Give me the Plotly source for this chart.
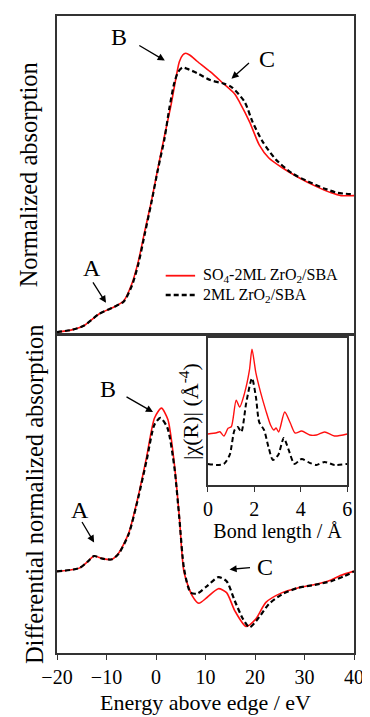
import plotly.graph_objects as go

# ---------------- data ----------------
# Top panel: normalized absorption
top_red_E = [-20, -17, -14.5, -11.5, -8.5, -6.5, -4.9, -3.56, -2.24, -0.93, 0.4, 1.72, 2.38, 3.03, 3.7, 4.7, 5.4, 6.0,
             6.8, 8.3, 10.95, 13.6, 15.9, 16.9, 18.9, 20.85, 22.8, 25.5, 28.8, 32.1, 35.4, 37.4, 40]
top_red_v = [0.01, 0.026, 0.057, 0.14, 0.19, 0.235, 0.355, 0.52, 0.74, 0.95, 1.19, 1.42, 1.53, 1.64, 1.77, 1.95, 2.0, 2.012,
             2.0, 1.955, 1.88, 1.795, 1.72, 1.66, 1.52, 1.355, 1.26, 1.19, 1.12, 1.06, 1.01, 0.99, 0.99]
top_blk_E = [-20, -17, -14.5, -11.5, -8.5, -6.5, -4.9, -3.56, -2.24, -0.93, 0.4, 1.72, 2.71, 3.7, 4.5, 5.35, 6.34,
             8.3, 10.95, 13.6, 15.25, 17.9, 19.5, 21.5, 24.2, 27.5, 30.8, 34.1, 36.7, 40]
top_blk_v = [0.01, 0.026, 0.057, 0.14, 0.19, 0.23, 0.34, 0.50, 0.72, 0.94, 1.18, 1.40, 1.62, 1.80, 1.88, 1.91, 1.90,
             1.87, 1.82, 1.795, 1.77, 1.664, 1.52, 1.38, 1.25, 1.15, 1.09, 1.04, 1.01, 1.0]

# Bottom panel: differential normalized absorption
bot_red_E = [-20, -15.5, -13.8, -12.5, -10.8, -8.9, -7.5, -5.5, -3.6, -1.9, -0.3, 1.1, 2.4, 3.7, 4.7, 5.68, 7.33,
             8.65, 10.3, 12.6, 14.26, 15.9, 18.2, 20.2, 22.2, 25.5, 28.8, 32.1, 34.7, 37.4, 40]
bot_red_v = [0, 0.02, 0.06, 0.094, 0.078, 0.074, 0.114, 0.236, 0.46, 0.70, 0.94, 1.0, 0.93, 0.66, 0.34, -0.008, -0.15,
             -0.195, -0.16, -0.106, -0.13, -0.24, -0.337, -0.29, -0.19, -0.13, -0.10, -0.08, -0.06, -0.024, 0.002]
bot_blk_E = [-20, -15.5, -13.8, -12.5, -10.8, -8.9, -7.5, -5.5, -3.6, -1.9, -0.3, 0.9, 2.3, 3.7, 4.7, 5.7, 7.0,
             8.3, 10.3, 12.6, 14.26, 15.9, 17.55, 18.9, 20.85, 22.8, 25.5, 28.8, 32.1, 35.4, 38.0, 40]
bot_blk_v = [0, 0.02, 0.06, 0.094, 0.078, 0.074, 0.11, 0.23, 0.45, 0.68, 0.90, 0.94, 0.88, 0.64, 0.33, 0.01, -0.13,
             -0.136, -0.09, -0.035, -0.06, -0.18, -0.29, -0.343, -0.28, -0.20, -0.14, -0.10, -0.083, -0.06, -0.03, 0.0]

# Inset: |chi(R)|
ins_red_R = [0, 0.38, 0.52, 0.69, 0.87, 1.01, 1.22, 1.37, 1.58, 1.79, 1.90, 2.07, 2.28, 2.49, 2.70, 2.84, 2.94,
             3.05, 3.31, 3.55, 3.76, 4.04, 4.39, 4.68, 5.03, 5.45, 6.0]
ins_red_v = [0.51, 0.523, 0.533, 0.49, 0.567, 0.583, 0.85, 0.78, 0.92, 1.15, 1.36, 1.12, 0.92, 0.75, 0.60, 0.55, 0.57,
             0.53, 0.73, 0.62, 0.52, 0.54, 0.50, 0.50, 0.53, 0.49, 0.51]
ins_blk_R = [0, 0.38, 0.69, 0.94, 1.15, 1.29, 1.44, 1.65, 1.90, 2.07, 2.21, 2.42, 2.61, 2.80, 3.03, 3.27, 3.48,
             3.73, 4.04, 4.39, 4.68, 5.03, 5.45, 6.0]
ins_blk_v = [0.21, 0.20, 0.21, 0.30, 0.55, 0.58, 0.53, 0.82, 1.07, 0.88, 0.63, 0.55, 0.38, 0.25, 0.30, 0.47, 0.35,
             0.21, 0.26, 0.22, 0.20, 0.23, 0.20, 0.21]

x_ticks = [-20, -10, 0, 10, 20, 30, 40]
inset_ticks = [0, 2, 4, 6]
series_names = ["SO<sub>4</sub>-2ML ZrO<sub>2</sub>/SBA", "2ML ZrO<sub>2</sub>/SBA"]

RED = "#ff1010"
FONT = "Liberation Serif, Times New Roman, serif"
FRAME = "#333333"

fig = go.Figure()

red_line = dict(color=RED, width=1.6)
blk_line = dict(color="black", width=2.2, dash="5px,3px")
SM = 0.7

fig.add_trace(go.Scatter(x=top_red_E, y=top_red_v, mode="lines", line=dict(**red_line, shape="spline", smoothing=SM),
                         name=series_names[0], showlegend=False, xaxis="x2", yaxis="y2"))
fig.add_trace(go.Scatter(x=top_blk_E, y=top_blk_v, mode="lines", line=dict(**blk_line, shape="spline", smoothing=SM),
                         name=series_names[1], showlegend=False, xaxis="x2", yaxis="y2"))
fig.add_trace(go.Scatter(x=bot_red_E, y=bot_red_v, mode="lines", line=dict(**red_line, shape="spline", smoothing=SM),
                         showlegend=False, xaxis="x", yaxis="y"))
fig.add_trace(go.Scatter(x=bot_blk_E, y=bot_blk_v, mode="lines", line=dict(**blk_line, shape="spline", smoothing=SM),
                         showlegend=False, xaxis="x", yaxis="y"))
fig.add_trace(go.Scatter(x=ins_red_R, y=ins_red_v, mode="lines", line=dict(color=RED, width=1.4, shape="spline", smoothing=0.7),
                         showlegend=False, xaxis="x3", yaxis="y3"))
fig.add_trace(go.Scatter(x=ins_blk_R, y=ins_blk_v, mode="lines",
                         line=dict(color="black", width=2, dash="5px,3px", shape="spline", smoothing=0.7),
                         showlegend=False, xaxis="x3", yaxis="y3"))

axis_common = dict(showgrid=False, zeroline=False, showline=True, linecolor=FRAME, linewidth=1.6, mirror=True)

# The page body adds an 8 px margin, so the figure is 8 px smaller and the margins compensate.
fig.update_layout(
    width=362, height=709,
    margin=dict(l=49, r=10, t=6, b=63),
    paper_bgcolor="white", plot_bgcolor="white",
    font=dict(family=FONT, color="black", size=20),
    xaxis=dict(**axis_common, domain=[0, 1], range=[-20, 40], tickvals=x_ticks, ticks="outside", ticklen=5,
               tickcolor=FRAME, tickwidth=1.4, tickfont=dict(size=20),
               title=dict(text="Energy above edge / eV", font=dict(size=22), standoff=8)),
    yaxis=dict(**axis_common, domain=[0, 0.4984], range=[-0.5, 1.445], showticklabels=False, ticks="",
               title=dict(text="Differential normalized absorption", font=dict(size=24.5), standoff=5)),
    xaxis2=dict(**axis_common, domain=[0, 1], range=[-20, 40], anchor="y2", showticklabels=False, ticks="",
                matches="x"),
    yaxis2=dict(**axis_common, domain=[0.5016, 1], range=[0, 2.28], anchor="x2", showticklabels=False, ticks="",
                title=dict(text="Normalized absorption", font=dict(size=24.5), standoff=11)),
    xaxis3=dict(**axis_common, domain=[0.508, 0.977], range=[0, 6], anchor="y3", tickvals=inset_ticks,
                ticks="outside", ticklen=5, tickcolor=FRAME, tickwidth=1.4, tickfont=dict(size=20),
                title=dict(text="Bond length / Å", font=dict(size=20), standoff=3)),
    yaxis3=dict(**axis_common, domain=[0.264, 0.494], range=[0, 1.47], anchor="x3", showticklabels=False, ticks="",
                title=dict(text="|χ(R)| (Å<sup>-4</sup>)", font=dict(size=22), standoff=1)),
    showlegend=False,
)

# Inset background
fig.add_shape(type="rect", xref="x3 domain", yref="y3 domain", x0=0, x1=1, y0=0, y1=1,
              fillcolor="white", line=dict(width=0), layer="below")

# Legend (drawn in the top panel, as in the original)
leg_rows = [(0.182, dict(color=RED, width=1.8)), (0.121, dict(color="black", width=2.4, dash="5px,3px"))]
for name, (yy, ln) in zip(series_names, leg_rows):
    fig.add_shape(type="line", xref="x2 domain", yref="y2 domain", x0=0.366, x1=0.465, y0=yy, y1=yy, line=ln)
    fig.add_annotation(text=name, xref="x2 domain", yref="y2 domain", x=0.485, y=yy, xanchor="left",
                       yanchor="middle", showarrow=False, font=dict(size=16, family=FONT, color="black"))

def label(text, x, y, xref, yref):
    fig.add_annotation(text=text, x=x, y=y, xref=xref, yref=yref, showarrow=False,
                       font=dict(size=24, family=FONT, color="black"))

def arrow(x, y, ax, ay, xref, yref):
    fig.add_annotation(text="", x=x, y=y, ax=ax, ay=ay, xref=xref, yref=yref, showarrow=True,
                       arrowhead=2, arrowsize=1.1, arrowwidth=1.3, arrowcolor="black")

# Top panel labels
label("B", -7.5, 2.13, "x2", "y2"); arrow(1.78, 1.96, -27, -16, "x2", "y2")
label("C", 22.4, 1.97, "x2", "y2"); arrow(15.25, 1.83, 19, -17, "x2", "y2")
label("A", -12.9, 0.47, "x2", "y2"); arrow(-10.1, 0.22, -14, -22, "x2", "y2")
# Bottom panel labels
label("B", -9.7, 1.116, "x", "y"); arrow(-0.6, 0.976, -28, -16, "x", "y")
label("A", -15.4, 0.378, "x", "y"); arrow(-12.5, 0.177, -13, -22, "x", "y")
label("C", 22.0, 0.024, "x", "y"); arrow(14.85, 0.012, 22, -2, "x", "y")

fig.write_html("out.html")
